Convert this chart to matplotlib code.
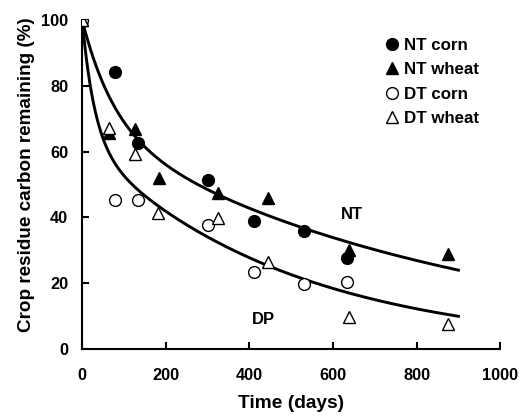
import numpy as np
import matplotlib
matplotlib.use("Agg")
import matplotlib.pyplot as plt

plt.rcParams['font.family'] = ['Liberation Sans', 'DejaVu Sans']
plt.rcParams['font.weight'] = 'bold'

# Observed data (days, % remaining)
nt_corn_t = [0, 79, 134, 301, 411, 531, 634]
nt_corn_v = [100, 84.2, 62.6, 51.5, 39.0, 35.9, 27.6]
nt_wheat_t = [0, 65, 127, 183, 324, 445, 639, 876]
nt_wheat_v = [100, 65.6, 67.0, 52.1, 47.4, 46.0, 30.0, 29.0]
dt_corn_t = [0, 79, 134, 301, 411, 530, 634]
dt_corn_v = [100, 45.4, 45.4, 37.6, 23.5, 19.7, 20.3]
dt_wheat_t = [0, 65, 127, 182, 325, 445, 639, 876]
dt_wheat_v = [100, 67.3, 59.4, 41.2, 39.9, 26.6, 9.8, 7.7]

# Two-pool decay model parameters (fast fraction, k_fast, k_slow)
nt_params = (32.5, 0.013, 0.00115)
dp_params = (37.0, 0.033, 0.00205)


def model(t, p):
    a, k1, k2 = p
    return a * np.exp(-k1 * t) + (100 - a) * np.exp(-k2 * t)


fig = plt.figure(figsize=(5.2, 4.17), dpi=100)
ax = fig.add_axes([0.158, 0.163, 0.804, 0.789])

tt = np.linspace(0, 900, 400)
ax.plot(tt, model(tt, nt_params), color='black', lw=2.1, zorder=2)
ax.plot(tt, model(tt, dp_params), color='black', lw=2.1, zorder=2)

ax.plot(nt_corn_t, nt_corn_v, 'o', color='black', ms=8.5, ls='none', label='NT corn', zorder=3)
ax.plot(nt_wheat_t, nt_wheat_v, '^', color='black', ms=8, ls='none', label='NT wheat', zorder=3)
ax.plot(dt_corn_t, dt_corn_v, 'o', mfc='white', mec='black', mew=1.0, ms=8.5, ls='none', label='DT corn', zorder=4)
ax.plot(dt_wheat_t, dt_wheat_v, '^', mfc='white', mec='black', mew=1.0, ms=8, ls='none', label='DT wheat', zorder=4)

ax.text(645, 41, 'NT', fontsize=12, fontweight='bold', ha='center', va='center')
ax.text(433, 9, 'DP', fontsize=12, fontweight='bold', ha='center', va='center')

ax.set_xlim(0, 1000)
ax.set_ylim(0, 100)
ax.set_xticks([0, 200, 400, 600, 800, 1000])
ax.set_yticks([0, 20, 40, 60, 80, 100])
ax.spines['top'].set_visible(False)
ax.spines['right'].set_visible(False)
for s in ('left', 'bottom'):
    ax.spines[s].set_linewidth(1.5)
ax.tick_params(direction='in', length=5, width=1.5, labelsize=11.8)
ax.tick_params(axis='x', pad=14)
ax.tick_params(axis='y', pad=10)
for lab in ax.get_xticklabels() + ax.get_yticklabels():
    lab.set_fontweight('bold')

ax.set_xlabel('Time (days)', fontsize=13.8, fontweight='bold', labelpad=8)
ax.set_ylabel('Crop residue carbon remaining (%)', fontsize=13.6, fontweight='bold')
ax.yaxis.set_label_coords(-0.113, 0.53)

leg = ax.legend(loc='upper right', bbox_to_anchor=(0.965, 0.966), frameon=False,
                prop={'weight': 'bold', 'size': 12.2}, handletextpad=0.25,
                handlelength=0.9, labelspacing=0.55, borderaxespad=0)

fig.savefig('out.png', dpi=100)
